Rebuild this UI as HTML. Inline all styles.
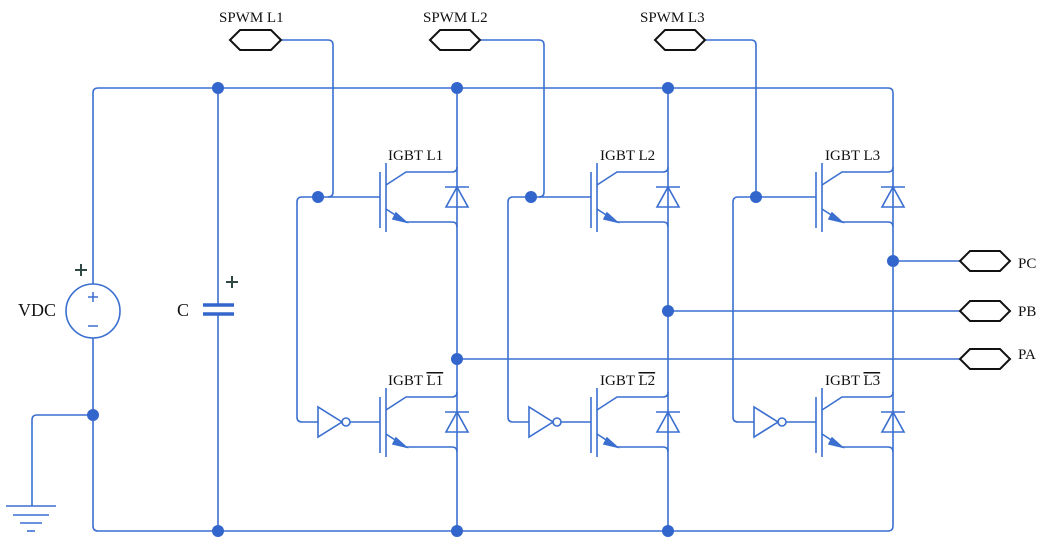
<!DOCTYPE html>
<html><head><style>body{margin:0;background:#fff}svg{display:block}text{font-family:"Liberation Serif",serif;fill:#111}</style></head><body>
<svg width="1045" height="548" viewBox="0 0 1045 548" xmlns="http://www.w3.org/2000/svg">
<defs>
<g id="ig" fill="none" stroke="#3a6fd0" stroke-width="1.6">
<line x1="380" y1="172" x2="380" y2="228"/>
<line x1="386" y1="163" x2="386" y2="232"/>
<path d="M386 185 L406 172 L452 172 Q457 172 457 167"/>
<path d="M386 209 L406 222 L452 222 Q457 222 457 227"/>
<polygon points="406,222 396,213 393,219" fill="#3a6fd0"/>
<polygon points="446,207 468,207 457,187" />
<line x1="445" y1="187" x2="469" y2="187"/>
</g>
<g id="ph" fill="none" stroke="#3a6fd0" stroke-width="1.6">
<path d="M380 197 L302 197 Q297 197 297 202 L297 417 Q297 422 302 422 L318 422"/>
<polygon points="318,407 318,437 342,422"/>
<circle cx="346" cy="422" r="4"/>
<line x1="350" y1="422" x2="380" y2="422"/>
<use href="#ig"/>
<use href="#ig" transform="translate(0,225)"/>
</g>
</defs>
<g fill="none" stroke="#3a6fd0" stroke-width="1.6">
<path d="M93 284 L93 93 Q93 88 98 88 L888 88 Q893 88 893 93 L893 526 Q893 531 888 531 L98 531 Q93 531 93 526 L93 338"/>
<path d="M93 415 L37 415 Q32 415 32 420 L32 506"/>
<line x1="6" y1="506" x2="56" y2="506"/><line x1="13" y1="515" x2="49" y2="515"/><line x1="20" y1="523" x2="42" y2="523"/><line x1="27" y1="531" x2="35" y2="531"/>
<circle cx="93" cy="311" r="27"/>
<path d="M218 88 L218 305 M218 314 L218 531"/>
<line x1="457" y1="88" x2="457" y2="531"/><line x1="668" y1="88" x2="668" y2="531"/>
<line x1="457" y1="359" x2="960" y2="359"/><line x1="668" y1="311" x2="960" y2="311"/><line x1="893" y1="261" x2="960" y2="261"/>
<path d="M281 40 L328 40 Q333 40 333 45 L333 192 Q333 197 328 197"/>
<path d="M480 40 L539 40 Q544 40 544 45 L544 192 Q544 197 539 197"/>
<path d="M705 40 L751 40 Q756 40 756 45 L756 197"/>
</g>
<g stroke="#3a6fd0" stroke-width="1.5"><line x1="88" y1="297" x2="98" y2="297"/><line x1="93" y1="292" x2="93" y2="302"/><line x1="88" y1="326" x2="98" y2="326"/></g>
<g stroke="#3366cc" stroke-width="3.5"><line x1="203" y1="305" x2="234" y2="305"/><line x1="203" y1="314" x2="234" y2="314"/></g>
<g stroke="#2f4a44" stroke-width="2"><line x1="75" y1="270" x2="87" y2="270"/><line x1="81" y1="264" x2="81" y2="276"/><line x1="226" y1="282" x2="238" y2="282"/><line x1="232" y1="276" x2="232" y2="288"/></g>
<use href="#ph"/>
<use href="#ph" transform="translate(211,0)"/>
<use href="#ph" transform="translate(436,0)"/>
<g stroke="#111" stroke-width="2" fill="#fff">
<polygon points="230,40 240,30 271,30 281,40 271,50 240,50"/>
<polygon points="430,40 440,30 470,30 480,40 470,50 440,50"/>
<polygon points="655,40 665,30 695,30 705,40 695,50 665,50"/>
<polygon points="960,261 970,251 1000,251 1010,261 1000,271 970,271"/>
<polygon points="960,311 970,301 1000,301 1010,311 1000,321 970,321"/>
<polygon points="960,359 970,349 1000,349 1010,359 1000,369 970,369"/>
</g>
<g fill="#3366cc">
<circle cx="218" cy="88" r="6"/><circle cx="457" cy="88" r="6"/><circle cx="668" cy="88" r="6"/>
<circle cx="218" cy="531" r="6"/><circle cx="457" cy="531" r="6"/><circle cx="668" cy="531" r="6"/>
<circle cx="93" cy="415" r="6"/><circle cx="457" cy="359" r="6"/><circle cx="668" cy="311" r="6"/><circle cx="893" cy="261" r="6"/>
<circle cx="318" cy="197" r="6"/><circle cx="531" cy="197" r="6"/><circle cx="756" cy="197" r="6"/>
</g>
<g font-size="15">
<text x="219" y="22">SPWM L1</text><text x="423" y="22">SPWM L2</text><text x="640" y="22">SPWM L3</text>
<text x="388" y="160">IGBT L1</text><text x="600" y="160">IGBT L2</text><text x="825" y="160">IGBT L3</text>
<text x="388" y="385">IGBT <tspan text-decoration="overline">L1</tspan></text>
<text x="600" y="385">IGBT <tspan text-decoration="overline">L2</tspan></text>
<text x="825" y="385">IGBT <tspan text-decoration="overline">L3</tspan></text>
<text x="1018" y="268">PC</text><text x="1018" y="316">PB</text><text x="1018" y="359">PA</text>
</g>
<g font-size="18"><text x="18" y="316">VDC</text><text x="177" y="316">C</text></g>
</svg>
</body></html>
